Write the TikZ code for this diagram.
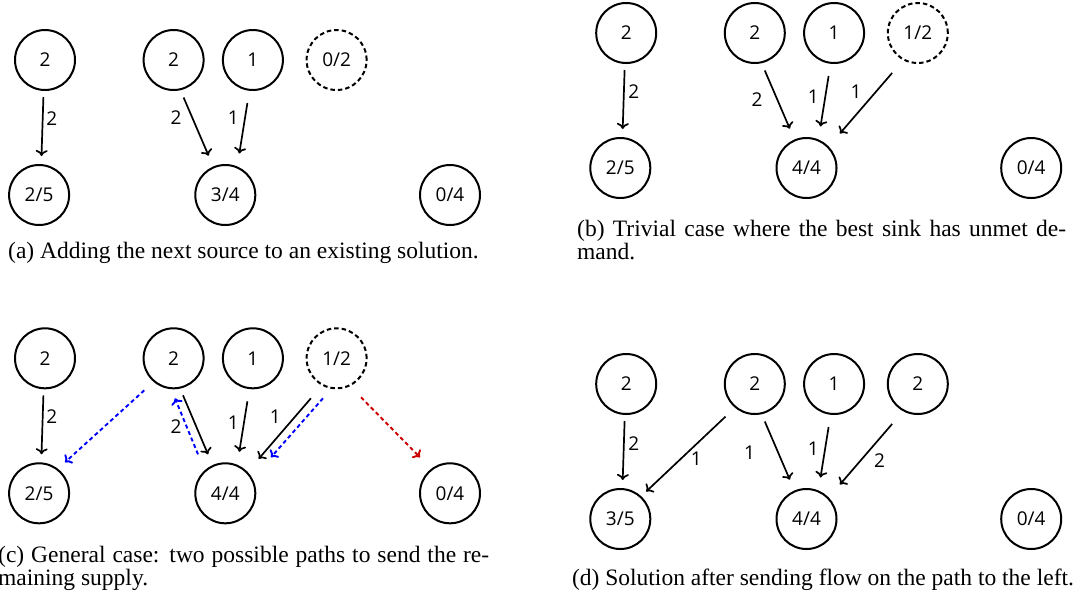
\documentclass[tikz,border=0pt]{standalone}
\usepackage{fontspec}
\setmainfont{Liberation Serif}
\newfontfamily\nodefont{Open Sans}
\usetikzlibrary{calc,arrows.meta}
\definecolor{pathred}{RGB}{204,0,0}
\tikzset{
  vtx/.style={circle,draw,line width=2pt,minimum size=60pt,inner sep=0pt,outer sep=0pt,font=\nodefont\fontsize{19}{21}\selectfont},
  dvtx/.style={vtx,dash pattern=on 4.5pt off 3pt},
  arr/.style={line width=1.7pt,-{To[length=6pt,width=12pt]}},
  barr/.style={arr,line width=1.9pt,blue,dash pattern=on 4pt off 3pt},
  rarr/.style={arr,line width=1.9pt,pathred,dash pattern=on 4pt off 3pt},
  lbl/.style={inner sep=0pt,font=\nodefont\fontsize{19}{21}\selectfont},
  capt/.style={inner sep=0pt,font=\fontsize{23.5}{26}\selectfont}
}
\begin{document}
\begin{tikzpicture}[x=1pt,y=-1pt]
\useasboundingbox (0,0) rectangle (1081,598);
% ---------- (a)
\begin{scope}[shift={(45,60)}]
  \node[vtx] (aT1) at (0,0) {2};
  \node[vtx] (aT2) at (128.6,0) {2};
  \node[vtx] (aT3) at (207.9,0) {1};
  \node[dvtx] (aT4) at (291.6,0) {0/2};
  \node[vtx] (aB1) at (-5.9,135) {2/5};
  \node[vtx] (aB2) at (180.3,135) {3/4};
  \node[vtx] (aB3) at (405,135) {0/4};
  \draw[arr] ($(aT1)+(-1.6,37)$) -- ($(aB1)+(2.4,-39)$);
  \draw[arr] ($(aT2)+(10,37.5)$) -- ($(aB2)+(-16.7,-39.3)$);
  \draw[arr] ($(aT3)+(-5.5,43)$) -- ($(aB2)+(14,-41.5)$);
  \node[lbl] (aL1) at (6.9,59) {2};
  \node[lbl] (aL2) at (131,58) {2};
  \node[lbl] (aL3) at (188.2,58) {1};
\end{scope}
\node[capt,anchor=base] (capA) at (243.5,258) {(a) Adding the next source to an existing solution.};
% ---------- (b)
\begin{scope}[shift={(626.2,33)}]
  \node[vtx] (bT1) at (0,0) {2};
  \node[vtx] (bT2) at (128.6,0) {2};
  \node[vtx] (bT3) at (207.9,0) {1};
  \node[dvtx] (bT4) at (291.6,0) {1/2};
  \node[vtx] (bB1) at (-5.9,135) {2/5};
  \node[vtx] (bB2) at (180.3,135) {4/4};
  \node[vtx] (bB3) at (405,135) {0/4};
  \draw[arr] ($(bT1)+(-1.6,37)$) -- ($(bB1)+(2.4,-39)$);
  \draw[arr] ($(bT2)+(10,37.5)$) -- ($(bB2)+(-16.7,-39.3)$);
  \draw[arr] ($(bT3)+(-5.5,43)$) -- ($(bB2)+(14,-41.5)$);
  \draw[arr] ($(bT4)+(-25.7,40)$) -- ($(bB2)+(33.4,-34.5)$);
  \node[lbl] (bL1) at (7.6,58.6) {2};
  \node[lbl] (bL2) at (130.9,67) {2};
  \node[lbl] (bL3) at (187.1,63.6) {1};
  \node[lbl] (bL4) at (229.9,58.6) {1};
\end{scope}
\node[capt,anchor=base west] (capB1) at (577,236) {\makebox[489pt][s]{(b) Trivial case where the best sink has unmet de-}};
\node[capt,anchor=base west] (capB2) at (577,259) {mand.};
% ---------- (c)
\begin{scope}[shift={(45,358.3)}]
  \node[vtx] (cT1) at (0,0) {2};
  \node[vtx] (cT2) at (128.6,0) {2};
  \node[vtx] (cT3) at (207.9,0) {1};
  \node[dvtx] (cT4) at (291.6,0) {1/2};
  \node[vtx] (cB1) at (-5.9,135) {2/5};
  \node[vtx] (cB2) at (180.3,135) {4/4};
  \node[vtx] (cB3) at (405,135) {0/4};
  \draw[arr] ($(cT1)+(-1.6,37)$) -- ($(cB1)+(2.4,-39)$);
  \draw[arr] ($(cT2)+(9.4,37)$) -- ($(cB2)+(-17.3,-39)$);
  \draw[arr] ($(cT3)+(-5.5,43)$) -- ($(cB2)+(14,-41.5)$);
  \draw[arr] ($(cT4)+(-25.7,40)$) -- ($(cB2)+(33.4,-34.5)$);
  \draw[barr] ($(cT4)+(-13.6,40)$) -- ($(cB2)+(45.7,-36)$);
  \draw[barr] ($(cB2)+(-27.3,-39)$) -- ($(cT2)+(1.4,40)$);
  \draw[barr] ($(cT2)+(-29.3,32)$) -- ($(cB1)+(25.9,-31)$);
  \draw[rarr] ($(cT4)+(24.4,39)$) -- ($(cB3)+(-30,-36)$);
  \node[lbl] (cL1) at (6.9,58.6) {2};
  \node[lbl] (cL2) at (131,68.5) {2};
  \node[lbl] (cL3) at (188.2,64.5) {1};
  \node[lbl] (cL4) at (230.3,58.6) {1};
\end{scope}
\node[capt,anchor=base west] (capC1) at (-2,562) {\makebox[491pt][s]{(c) General case: two possible paths to send the re-}};
\node[capt,anchor=base west] (capC2) at (-2,585) {maining supply.};
% ---------- (d)
\begin{scope}[shift={(626.2,384)}]
  \node[vtx] (dT1) at (0,0) {2};
  \node[vtx] (dT2) at (128.6,0) {2};
  \node[vtx] (dT3) at (207.9,0) {1};
  \node[vtx] (dT4) at (291.6,0) {2};
  \node[vtx] (dB1) at (-5.9,135) {3/5};
  \node[vtx] (dB2) at (180.3,135) {4/4};
  \node[vtx] (dB3) at (405,135) {0/4};
  \draw[arr] ($(dT1)+(-1.6,37)$) -- ($(dB1)+(2.4,-39)$);
  \draw[arr] ($(dT2)+(-29.3,32.6)$) -- ($(dB1)+(25.9,-27.5)$);
  \draw[arr] ($(dT2)+(10,37.5)$) -- ($(dB2)+(-16.7,-39.3)$);
  \draw[arr] ($(dT3)+(-5.5,43)$) -- ($(dB2)+(14,-41.5)$);
  \draw[arr] ($(dT4)+(-25.7,40)$) -- ($(dB2)+(33.4,-34.5)$);
  \node[lbl] (dL1) at (7.6,59.9) {2};
  \node[lbl] (dL2) at (70,75.2) {1};
  \node[lbl] (dL3) at (123.4,68.5) {1};
  \node[lbl] (dL4) at (187.1,65.2) {1};
  \node[lbl] (dL5) at (253.4,76.5) {2};
\end{scope}
\node[capt,anchor=base] (capD) at (823,585) {(d) Solution after sending flow on the path to the left.};
\end{tikzpicture}
\end{document}
